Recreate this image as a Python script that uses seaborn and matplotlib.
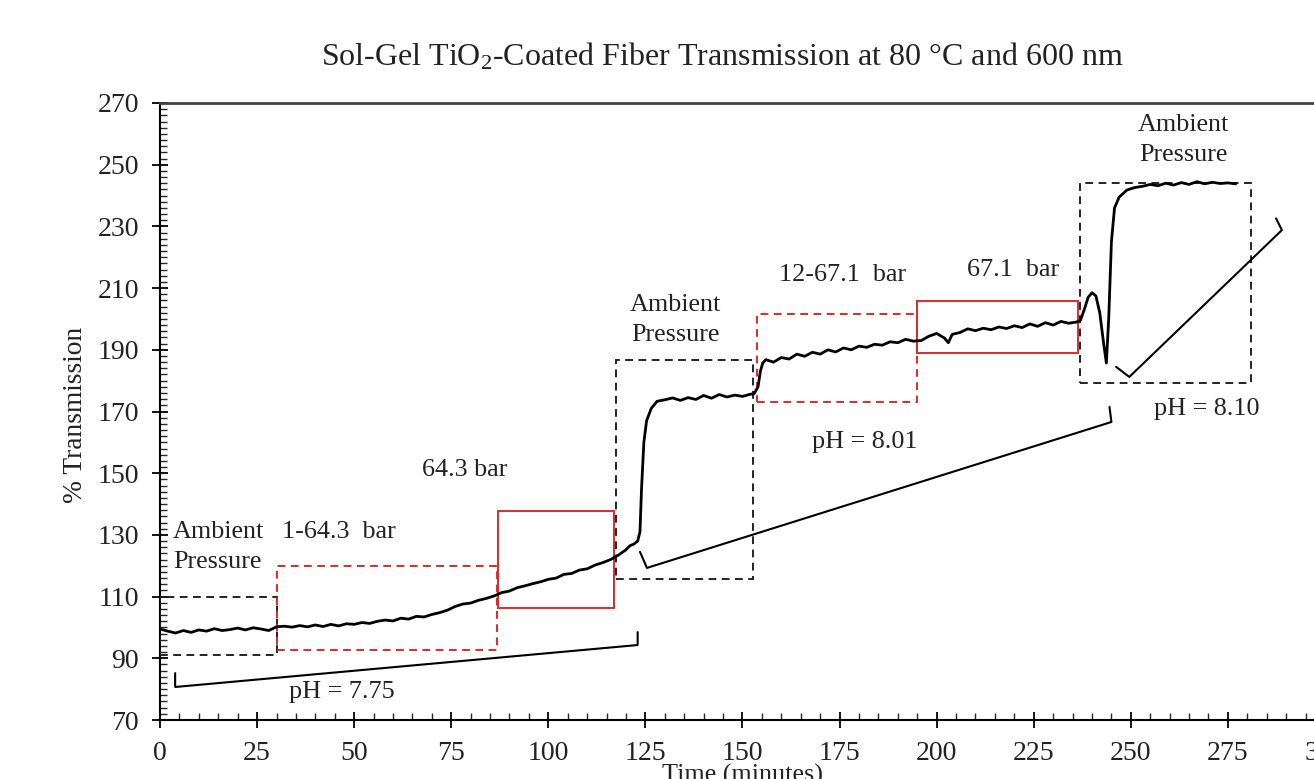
import matplotlib
matplotlib.use("Agg")
import matplotlib.pyplot as plt
import seaborn as sns
import pandas as pd
from matplotlib.patches import Rectangle
from matplotlib.ticker import MultipleLocator

# ---------------- data ----------------
time_min = [0, 2, 4, 6, 8, 10, 12, 14, 16, 18, 20, 22, 24, 26, 28, 30,
            32, 34, 36, 38, 40, 42, 44, 46, 48, 50, 52, 54, 56, 58, 60,
            62, 64, 66, 68, 70, 72, 74, 76, 78, 80, 82, 84, 86, 88, 90,
            92, 94, 96, 98, 100, 102, 104, 106, 108, 110, 112, 114, 116,
            118, 120, 121, 122, 123, 123.6, 124, 124.6, 125.3, 126.5, 128,
            130, 132, 134, 136, 138, 140, 142, 144, 146, 148, 150, 152, 153,
            154, 154.6, 155.2, 156, 158, 160, 162, 164, 166, 168, 170, 172,
            174, 176, 178, 180, 182, 184, 186, 188, 190, 192, 194, 196, 198,
            200, 202, 203, 204, 206, 208, 210, 212, 214, 216, 218, 220, 222,
            224, 226, 228, 230, 232, 234, 236, 237, 238, 239, 240, 241, 242,
            243, 243.7, 244.3, 245, 245.8, 247, 249, 251, 253, 255, 257, 259,
            261, 263, 265, 267, 269, 271, 273, 275, 277]
transmission = [99.5, 98.8, 98.2, 99.0, 98.4, 99.2, 98.8, 99.6, 99.0, 99.3, 99.8, 99.2, 99.9, 99.5, 99.0, 100.2,
                100.4, 100.1, 100.6, 100.2, 100.8, 100.3, 101.0, 100.5, 101.2, 101.0, 101.6, 101.3, 102.0, 102.4, 102.1,
                103.0, 102.7, 103.6, 103.4, 104.2, 104.8, 105.6, 106.8, 107.6, 107.9, 108.8, 109.4, 110.2, 111.3, 111.8,
                112.9, 113.5, 114.2, 114.8, 115.6, 116.0, 117.2, 117.5, 118.6, 119.0, 120.2, 121.0, 122.0,
                123.4, 125.2, 126.5, 127.0, 128.0, 131.0, 145.0, 160.0, 167.0, 171.0, 173.3,
                173.8, 174.4, 173.6, 174.5, 173.9, 175.2, 174.3, 175.5, 174.7, 175.3, 174.9, 175.6, 175.8,
                178.0, 183.0, 185.7, 186.8, 186.0, 187.5, 187.0, 188.6, 187.9, 189.2, 188.6, 190.0,
                189.3, 190.6, 190.0, 191.2, 190.8, 191.8, 191.5, 192.6, 192.3, 193.4, 192.8, 193.0, 194.4,
                195.3, 193.8, 192.3, 195.0, 195.6, 196.8, 196.2, 197.0, 196.5, 197.4, 196.9, 197.8, 197.2,
                198.4, 197.6, 198.8, 198.0, 199.2, 198.6, 199.0, 199.5, 203.0, 207.0, 208.5, 207.5, 202.0,
                192.0, 185.7, 200.0, 225.0, 236.0, 239.5, 241.8, 242.6, 243.0, 243.6, 243.2, 244.0,
                243.4, 244.2, 243.6, 244.5, 243.8, 244.3, 243.9, 244.1, 243.8]

# region boxes: x0, x1, y0, y1
box_x0 = [0, 30, 87, 117.5, 153.7, 195, 237]
box_x1 = [30, 86.8, 117, 152.6, 195, 236.5, 281]
box_y0 = [91, 92.7, 106.4, 115.8, 173.1, 189, 179.2]
box_y1 = [110, 120, 137.7, 186.8, 201.6, 205.8, 244]
box_color = ["black", "red", "red", "black", "red", "red", "black"]
box_dashed = [True, True, False, True, True, False, True]

# pH brackets
bracket_x = [[3.9, 3.9, 123, 123],
             [123.6, 125.4, 245, 244.5],
             [246.2, 249.6, 288.9, 287.4]]
bracket_y = [[85.2, 80.7, 94.3, 98.5],
             [124.5, 119.3, 166.6, 171.5],
             [184.5, 181.2, 228.8, 232.6]]

# annotations: text, x, y, ha
ann_text = ["Ambient\nPressure", "1-64.3  bar", "64.3 bar", "pH = 7.75",
            "Ambient\nPressure", "12-67.1  bar", "67.1  bar", "pH = 8.01",
            "Ambient\nPressure", "pH = 8.10"]
ann_x = [3.3, 31.4, 78.5, 46.8, 132.8, 175.8, 219.6, 181.5, 263.6, 269.5]
ann_y = [126.0, 130.9, 151.0, 79.1, 199.7, 214.2, 215.9, 160.1, 258.0, 170.8]
ann_ha = ["left", "left", "center", "center", "center", "center", "center", "center", "center", "center"]

x_ticks = [0, 25, 50, 75, 100, 125, 150, 175, 200, 225, 250, 275, 300]
y_ticks = [70, 90, 110, 130, 150, 170, 190, 210, 230, 250, 270]

# ---------------- style ----------------
sns.set_theme(style="white")
plt.rcParams["font.family"] = ["Liberation Serif", "DejaVu Serif"]
plt.rcParams["mathtext.fontset"] = "custom"
plt.rcParams["mathtext.rm"] = "Liberation Serif"
plt.rcParams["mathtext.it"] = "Liberation Serif:italic"

FS_ANN = 18.8
FS_TICK = 20
FS_TITLE = 23
RED = "#D92B2B"
TXT = "#222222"

fig = plt.figure(figsize=(13.14, 7.79), dpi=100)
ax = fig.add_axes([160 / 1314, 59 / 779, (1325 - 160) / 1314, 617 / 779])

df = pd.DataFrame({"Time (minutes)": time_min, "% Transmission": transmission})
sns.lineplot(data=df, x="Time (minutes)", y="% Transmission", ax=ax,
             color="black", linewidth=2.0, sort=False, estimator=None, zorder=4)

for x0, x1, y0, y1, c, d in zip(box_x0, box_x1, box_y0, box_y1, box_color, box_dashed):
    col = RED if c == "red" else "#222222"
    ax.add_patch(Rectangle((x0, y0), x1 - x0, y1 - y0, fill=False, edgecolor=col,
                           linewidth=1.4, linestyle=(0, (4, 2.8)) if d else "-", zorder=3))

for bx, by in zip(bracket_x, bracket_y):
    ax.plot(bx, by, color="black", linewidth=1.5, zorder=3)

for t, x, y, ha in zip(ann_text, ann_x, ann_y, ann_ha):
    ax.text(x, y, t, ha=ha, va="center", fontsize=FS_ANN, color=TXT,
            linespacing=1.45, zorder=5)

ax.set_xlim(0, 300)
ax.set_ylim(70, 270)
ax.set_xticks(x_ticks)
ax.set_yticks(y_ticks)
ax.xaxis.set_minor_locator(MultipleLocator(5))
ax.yaxis.set_minor_locator(MultipleLocator(2))
ax.tick_params(axis="both", which="major", direction="inout", length=12, width=1.3,
               labelsize=FS_TICK, colors="black", labelcolor=TXT, pad=9)
ax.tick_params(axis="both", which="minor", direction="in", length=5, width=1.0)
ax.tick_params(axis="x", which="both", bottom=True, top=False)
ax.tick_params(axis="y", which="both", left=True, right=False)
ax.set_xlabel("")
ax.set_ylabel("")
for s in ["left", "bottom"]:
    ax.spines[s].set_color("black")
    ax.spines[s].set_linewidth(1.5)
ax.spines["top"].set_color("#444444")
ax.spines["top"].set_linewidth(2.0)
ax.spines["right"].set_visible(False)

fig.text(722 / 1314, 1 - 57 / 779, r"Sol-Gel TiO$_\mathrm{2}$-Coated Fiber Transmission at 80 °C and 600 nm",
         ha="center", va="center", fontsize=FS_TITLE, color=TXT)
fig.text(742 / 1314, 4 / 779, "Time (minutes)", ha="center", va="center", fontsize=FS_ANN, color=TXT)
fig.text(76 / 1314, 1 - 415 / 779, "% Transmission", ha="center", va="center", rotation=90,
         fontsize=FS_ANN + 1, color=TXT)

fig.savefig("out.png", dpi=100)
